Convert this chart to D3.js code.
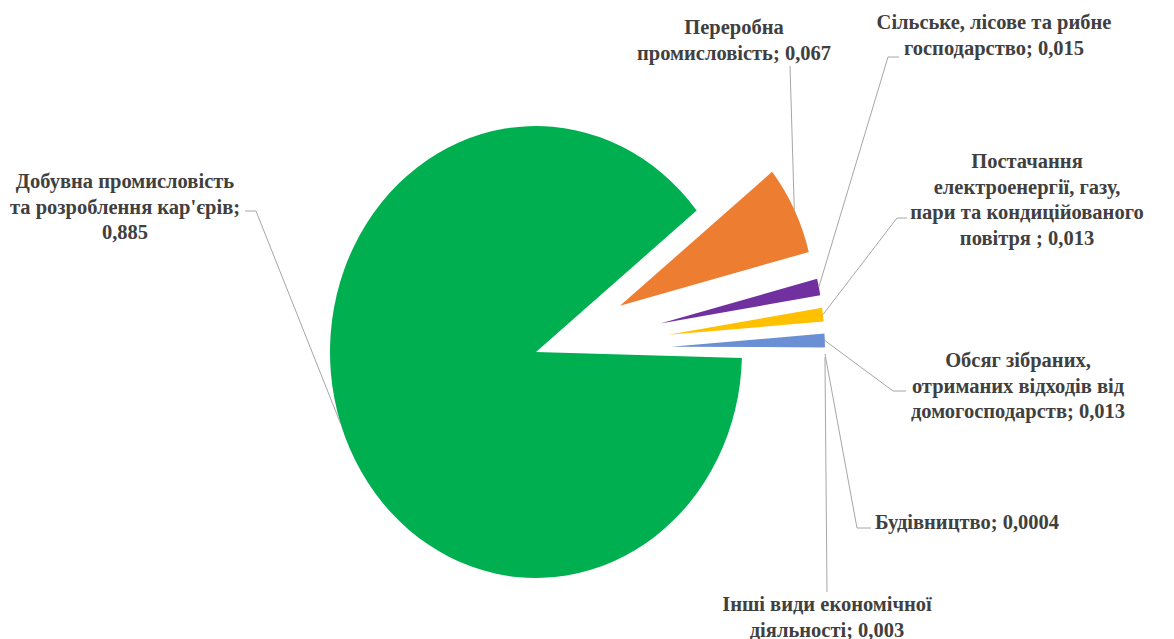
<!DOCTYPE html>
<html>
<head>
<meta charset="utf-8">
<script src="https://cdn.jsdelivr.net/npm/d3@7"></script>
<style>
  html, body { margin: 0; padding: 0; background: #ffffff; }
  svg { display: block; }
  .lbl { font-family: "Liberation Serif", "Times New Roman", serif; font-weight: 700; font-size: 20.5px; fill: #404040; }
</style>
</head>
<body>
<svg id="chart" width="1174" height="639"></svg>
<script>
// ---- data ----
const categories = [
  "Добувна промисловість та розроблення кар'єрів",
  "Переробна промисловість",
  "Сільське, лісове та рибне господарство",
  "Постачання електроенергії, газу, пари та кондиційованого повітря",
  "Обсяг зібраних, отриманих відходів від домогосподарств",
  "Будівництво",
  "Інші види економічної діяльності"
];
const values = [0.885, 0.067, 0.015, 0.013, 0.013, 0.0004, 0.003];
const labelLines = [
  ["Добувна промисловість", "та розроблення кар'єрів;", "0,885"],
  ["Переробна", "промисловість; 0,067"],
  ["Сільське, лісове та рибне", "господарство; 0,015"],
  ["Постачання", "електроенергії, газу,", "пари та кондиційованого", "повітря ; 0,013"],
  ["Обсяг зібраних,", "отриманих відходів від", "домогосподарств; 0,013"],
  ["Будівництво; 0,0004"],
  ["Інші види економічної", "діяльності; 0,003"]
];

// ---- style / layout ----
const colors = ["#00B050", "#ED7D31", "#7030A0", "#FFC000", "#6A8FD4", "#ffffff", "#ffffff"];
const explode = [0, 94, 127, 133, 135, 135, 135];
const radii = [206, 195, 162, 156, 154, 154, 154];
const center = [536, 352];
const yStretch = 1.097;
const startDeg = 91.5;
const labelPos = [[125, 181], [734, 27], [994, 22], [1027, 161], [1018, 360], [967, 522], [827, 604]];
const leaderPts = [
  [[256, 211], [245, 211]],
  [[790, 66]],
  [[888, 57], [899, 57]],
  [[897, 218], [907, 218]],
  [[893, 391], [906, 391]],
  [[857, 528], [871, 528]],
  [[827, 592]]
];
const lineH = 25.5;

const svg = d3.select("#chart");
const start = startDeg * Math.PI / 180;
const pie = d3.pie().sort(null).startAngle(start).endAngle(start + 2 * Math.PI);
const arcs = pie(values);
const arc = d3.arc().innerRadius(0);

const slices = svg.append("g").attr("class", "slices");
arcs.forEach((a, i) => {
  const mid = (a.startAngle + a.endAngle) / 2;
  const ox = explode[i] * Math.sin(mid);
  const oy = -explode[i] * Math.cos(mid);
  slices.append("path")
    .attr("transform", `translate(${center[0]},${center[1]}) scale(1,${yStretch}) translate(${ox},${oy})`)
    .attr("d", arc.outerRadius(radii[i])(a))
    .attr("fill", colors[i]);
});

// leader lines
const leaders = svg.append("g").attr("class", "leaders");
arcs.forEach((a, i) => {
  const mid = (a.startAngle + a.endAngle) / 2;
  const d = explode[i] + radii[i];
  const p0 = [center[0] + d * Math.sin(mid), center[1] - d * Math.cos(mid) * yStretch];
  const pts = [p0].concat(leaderPts[i]);
  leaders.append("path")
    .attr("d", d3.line()(pts))
    .attr("fill", "none")
    .attr("stroke", "#a6a6a6")
    .attr("stroke-width", 1);
});

// labels
const labels = svg.append("g").attr("class", "labels");
labelLines.forEach((lines, i) => {
  const t = labels.append("text")
    .attr("class", "lbl")
    .attr("x", labelPos[i][0])
    .attr("y", labelPos[i][1])
    .attr("text-anchor", "middle");
  lines.forEach((ln, j) => {
    t.append("tspan")
      .attr("x", labelPos[i][0])
      .attr("y", labelPos[i][1] + j * lineH)
      .attr("dominant-baseline", "central")
      .text(ln);
  });
});
</script>
</body>
</html>
